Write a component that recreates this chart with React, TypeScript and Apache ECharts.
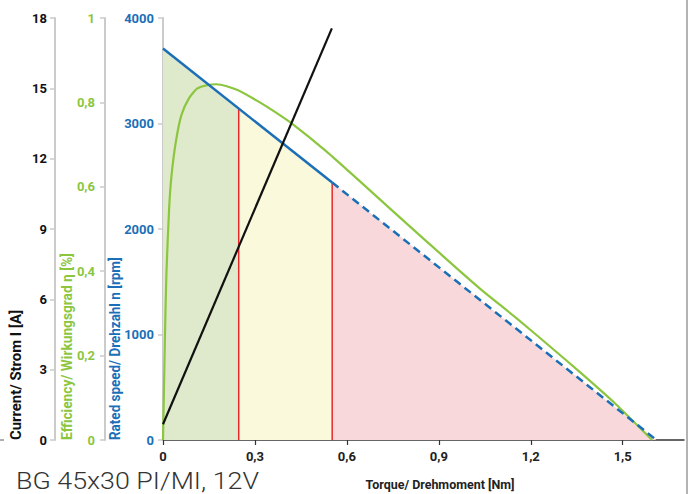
import React, { useEffect, useRef } from "react";
import * as echarts from "echarts";

// ---- data ----
const speedTorque = [0, 0.247, 0.552, 1.61]; // Nm
const speedRpm = [3710, 3140, 2440, 0]; // rpm

const currentTorque = [0, 0.551];
const currentAmps = [0.67, 17.56];

const effTorque = [
  0, 0.002, 0.006, 0.011, 0.02, 0.028, 0.042, 0.06, 0.085, 0.112, 0.145, 0.175,
  0.245, 0.316, 0.364, 0.424, 0.533, 0.641, 0.749, 0.858, 0.966, 1.042, 1.151,
  1.259, 1.368, 1.476, 1.596,
];
const effValues = [
  0, 0.075, 0.233, 0.391, 0.549, 0.628, 0.707, 0.77, 0.81, 0.833, 0.841, 0.843,
  0.829, 0.8, 0.778, 0.748, 0.684, 0.614, 0.543, 0.472, 0.402, 0.354, 0.29,
  0.224, 0.156, 0.086, 0,
];

const xTicks = [0, 0.3, 0.6, 0.9, 1.2, 1.5];

const title = "BG 45x30 PI/MI, 12V";
const xName = "Torque/ Drehmoment [Nm]";
const currentName = "Current/ Strom I [A]";
const effName = "Efficiency/ Wirkungsgrad η [%]";
const speedName = "Rated speed/ Drehzahl n [rpm]";

const BLUE = "#1a6fb8";
const GREEN = "#8cc63f";
const BLACK = "#111111";
const RED = "#e8262a";
const AXIS_GRAY = "#cbcbcb";
const FONT = "Roboto, 'Liberation Sans', sans-serif";

const comma = (v: number) => String(+Number(v).toFixed(2)).replace(".", ",");
const pts = (xs: number[], ys: number[]) => xs.map((x, i) => [x, ys[i]]);

function measure(text: string, font: string): number {
  const ctx = document.createElement("canvas").getContext("2d");
  if (!ctx) return text.length * 7;
  ctx.font = font;
  return ctx.measureText(text).width;
}

export default function App() {
  const ref = useRef<HTMLDivElement>(null);

  useEffect(() => {
    if (!ref.current) return;
    const chart = echarts.init(ref.current, undefined, { renderer: "svg" });

    const speedPts = pts(speedTorque, speedRpm);
    const fills = ["#dfeacd", "#fbf9dc", "#f8d8da"];

    const yAxisBase = (color: string, offset: number, margin: number) => ({
      type: "value",
      position: "left",
      offset,
      splitLine: { show: false },
      axisLine: { show: true, lineStyle: { color: AXIS_GRAY, width: 2 } },
      axisTick: { show: true, length: 5, lineStyle: { color: AXIS_GRAY, width: 1.5 } },
      axisLabel: {
        color,
        fontFamily: FONT,
        fontWeight: "bold",
        fontSize: 13,
        margin,
        formatter: (v: number) => comma(v),
      },
    });

    const nameFont = `bold 14px ${FONT}`;
    const fitText = (
      text: string,
      x: number,
      y: number,
      target: number,
      fill: string,
      font: string,
      rotated: boolean,
      align: string
    ) => ({
      type: "text",
      x,
      y,
      rotation: rotated ? Math.PI / 2 : 0,
      scaleX: target / measure(text, font),
      style: { text, fill, font, textAlign: align, textVerticalAlign: "middle" },
    });

    const option: any = {
      animation: false,
      grid: { left: 163, top: 18, right: 5, bottom: 54 },
      xAxis: {
        type: "value",
        min: 0,
        max: 1.7,
        splitLine: { show: false },
        axisLine: { show: true, lineStyle: { color: "#333", width: 1.5 } },
        axisTick: {
          show: true,
          length: 5,
          customValues: xTicks,
          lineStyle: { color: "#333", width: 1.2 },
        },
        axisLabel: {
          customValues: xTicks,
          color: "#222",
          fontFamily: FONT,
          fontWeight: "bold",
          fontSize: 13,
          margin: 10,
          formatter: (v: number) => comma(v),
        },
      },
      yAxis: [
        { ...yAxisBase(BLUE, 0, 9), min: 0, max: 4000, interval: 1000 },
        { ...yAxisBase(GREEN, 58, 10), min: 0, max: 1, interval: 0.2 },
        { ...yAxisBase(BLACK, 108, 8), min: 0, max: 18, interval: 3 },
      ],
      series: [
        ...[0, 1, 2].map((i) => ({
          type: "line",
          yAxisIndex: 0,
          symbol: "none",
          silent: true,
          data: [speedPts[i], speedPts[i + 1]],
          lineStyle: { width: 0 },
          areaStyle: { color: fills[i], opacity: 1 },
          z: 1,
        })),
        ...[1, 2].map((i) => ({
          type: "line",
          yAxisIndex: 0,
          symbol: "none",
          data: [
            [speedTorque[i], 0],
            [speedTorque[i], speedRpm[i]],
          ],
          lineStyle: { color: RED, width: 1.5 },
          z: 2,
        })),
        {
          type: "line",
          yAxisIndex: 1,
          symbol: "none",
          smooth: 0.2,
          data: pts(effTorque, effValues),
          lineStyle: { color: GREEN, width: 2.2 },
          z: 3,
        },
        {
          type: "line",
          yAxisIndex: 0,
          symbol: "none",
          data: [speedPts[0], speedPts[2]],
          lineStyle: { color: BLUE, width: 2.5 },
          z: 4,
        },
        {
          type: "line",
          yAxisIndex: 0,
          symbol: "none",
          data: [speedPts[2], speedPts[3]],
          lineStyle: { color: BLUE, width: 2.5, type: [8, 5] },
          z: 4,
        },
        {
          type: "line",
          yAxisIndex: 2,
          symbol: "none",
          data: pts(currentTorque, currentAmps),
          lineStyle: { color: BLACK, width: 2.2 },
          z: 5,
        },
      ],
      graphic: [
        fitText(currentName, 17, 440, 130, BLACK, nameFont, true, "left"),
        fitText(effName, 67, 440, 187, GREEN, nameFont, true, "left"),
        fitText(speedName, 115, 440, 183, BLUE, nameFont, true, "left"),
        fitText(xName, 440, 484, 149, "#222", `bold 13px ${FONT}`, false, "center"),
        fitText(title, 16, 481, 243, "#333", `300 24px ${FONT}`, false, "left"),
        {
          type: "line",
          shape: { x1: 687, y1: 0, x2: 687, y2: 494 },
          style: { stroke: "#9a9a9a", lineWidth: 1.5 },
        },
        {
          type: "line",
          shape: { x1: 0, y1: 440, x2: 4, y2: 440 },
          style: { stroke: "#777", lineWidth: 1.2 },
        },
      ],
    };

    chart.setOption(option);
    return () => chart.dispose();
  }, []);

  return (
    <div
      ref={ref}
      style={{ position: "fixed", left: 0, top: 0, width: 689, height: 494, background: "#fff" }}
    />
  );
}
